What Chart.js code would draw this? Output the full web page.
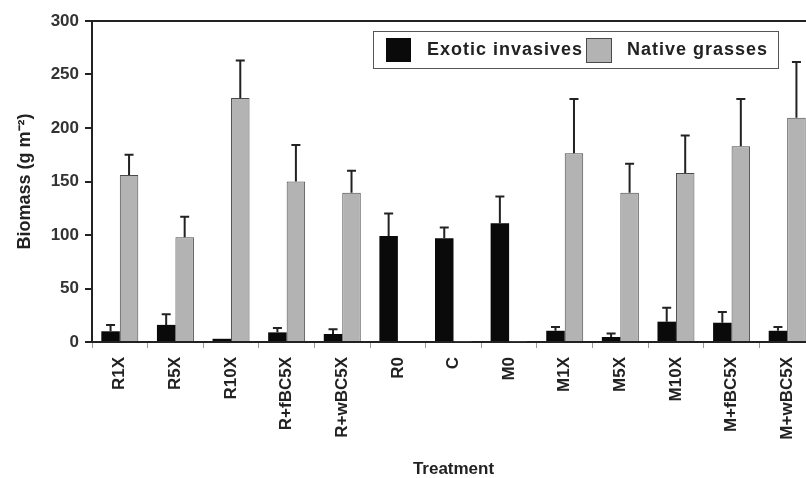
<!DOCTYPE html>
<html>
<head>
<meta charset="utf-8">
<script src="https://cdn.jsdelivr.net/npm/chart.js@4/dist/chart.umd.min.js"></script>
<style>
  html, body { margin: 0; padding: 0; background: #fff; overflow: hidden; }
  #wrap { width: 806px; height: 478px; overflow: hidden; }
</style>
</head>
<body>
<div id="wrap"><canvas id="c" width="822" height="478"></canvas></div>
<script>
// treatments along the x axis
const treatments = ["R1X","R5X","R10X","R+fBC5X","R+wBC5X","R0","C","M0","M1X","M5X","M10X","M+fBC5X","M+wBC5X"];

// biomass means (g m-2)
const exotic = [10, 16, 3, 9, 7.5, 99, 97, 111, 10.5, 4.7, 19, 18, 10.5];
const native = [156, 98, 228, 150, 139.5, 1, 0.5, 0.5, 176.5, 139.5, 158, 183, 209.6];

// upper error bar lengths
const exoticErr = [6, 10, 0, 4, 4.5, 21, 10, 25, 3.5, 3.3, 13, 10, 3.5];
const nativeErr = [19, 19, 35, 34, 20.5, 0, 0, 0, 50.5, 27, 35, 44, 52];

const yTicks = [0, 50, 100, 150, 200, 250, 300];

const FONT = "'Liberation Sans', Arial, sans-serif";
const INK = "#222";

// upper error bars with a cap
const errorBars = {
  id: "errorBars",
  afterDatasetsDraw(chart) {
    const ctx = chart.ctx;
    const y = chart.scales.y;
    ctx.save();
    ctx.strokeStyle = INK;
    ctx.lineWidth = 2;
    chart.data.datasets.forEach((ds, i) => {
      const meta = chart.getDatasetMeta(i);
      meta.data.forEach((bar, j) => {
        const e = ds.err[j];
        if (!e) return;
        const top = y.getPixelForValue(ds.data[j] + e);
        ctx.beginPath();
        ctx.moveTo(bar.x, bar.y);
        ctx.lineTo(bar.x, top);
        ctx.moveTo(bar.x - 4.5, top);
        ctx.lineTo(bar.x + 4.5, top);
        ctx.stroke();
      });
    });
    ctx.restore();
  }
};

// boxed legend inside the plot, like the original figure
const boxLegend = {
  id: "boxLegend",
  afterDraw(chart) {
    const ctx = chart.ctx;
    const a = chart.chartArea;
    const x0 = a.left + 281, y0 = a.top + 10, w = 405, h = 37;
    ctx.save();
    ctx.fillStyle = "#fff";
    ctx.fillRect(x0, y0, w, h);
    ctx.strokeStyle = "#555";
    ctx.lineWidth = 1;
    ctx.strokeRect(x0 + 0.5, y0 + 0.5, w, h);
    ctx.font = "bold 18px " + FONT;
    ctx.letterSpacing = "1px";
    ctx.textBaseline = "middle";
    const items = [{ sx: 13, tx: 54 }, { sx: 213, tx: 254 }];
    chart.data.datasets.forEach((ds, i) => {
      const it = items[i];
      ctx.fillStyle = ds.backgroundColor;
      ctx.fillRect(x0 + it.sx, y0 + 7, 25, 24);
      if (ds.borderWidth) {
        ctx.strokeStyle = ds.borderColor;
        ctx.strokeRect(x0 + it.sx + 0.5, y0 + 7.5, 25, 24);
      }
      ctx.fillStyle = "#222";
      ctx.fillText(ds.label, x0 + it.tx, y0 + 19.5);
    });
    ctx.restore();
  }
};

new Chart(document.getElementById("c"), {
  type: "bar",
  data: {
    labels: treatments,
    datasets: [
      { label: "Exotic invasives", data: exotic, err: exoticErr, backgroundColor: "#0a0a0a", borderWidth: 0 },
      { label: "Native grasses", data: native, err: nativeErr, backgroundColor: "#b3b3b3", borderColor: "#4a4a4a", borderWidth: 1 }
    ]
  },
  options: {
    responsive: false,
    animation: false,
    devicePixelRatio: 1,
    layout: { padding: { top: 21, right: 7, left: 0, bottom: 0 } },
    datasets: { bar: { categoryPercentage: 0.665, barPercentage: 1.0 } },
    plugins: { legend: { display: false }, tooltip: { enabled: false } },
    scales: {
      x: {
        grid: { display: true, offset: true, drawOnChartArea: false, tickColor: "#999", tickLength: 6, lineWidth: 1 },
        border: { display: true, color: INK, width: 2 },
        ticks: { color: "#222", font: { family: FONT, size: 17, weight: "bold" }, minRotation: 90, maxRotation: 90, padding: 9, autoSkip: false },
        title: { display: true, text: "Treatment", color: "#222", font: { family: FONT, size: 17, weight: "bold", lineHeight: 1.0 }, padding: { top: 0, bottom: 0 } },
        afterFit: s => { s.height = 136; }
      },
      y: {
        min: 0, max: 300,
        afterBuildTicks: s => { s.ticks = yTicks.map(v => ({ value: v })); },
        grid: {
          color: c => (c.tick && c.tick.value === 300 ? INK : "rgba(0,0,0,0)"),
          lineWidth: 2, tickColor: INK, tickLength: 7
        },
        border: { display: true, color: INK, width: 2 },
        ticks: { color: "#333", font: { family: FONT, size: 17, weight: "bold" }, padding: 6 },
        title: { display: true, text: "Biomass (g m⁻²)", color: "#222", font: { family: FONT, size: 18, weight: "bold" }, padding: { top: 14, bottom: 0 } },
        afterFit: s => { s.width = 92; }
      }
    }
  },
  plugins: [errorBars, boxLegend]
});
</script>
</body>
</html>
